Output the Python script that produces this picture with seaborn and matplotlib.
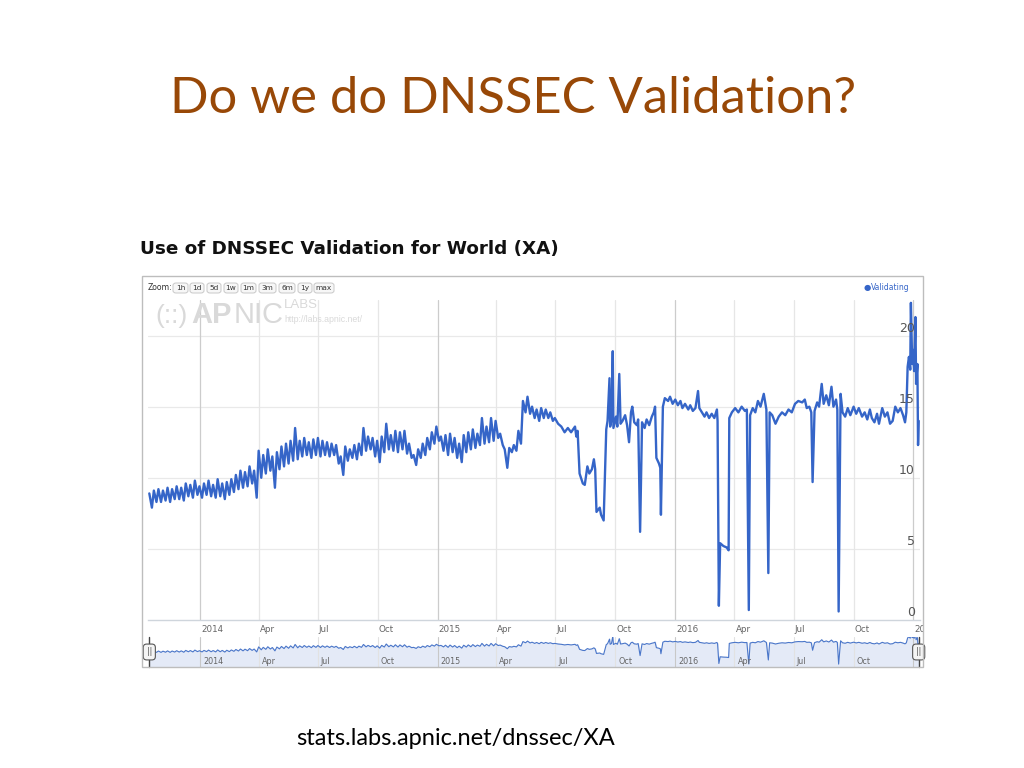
import matplotlib
matplotlib.use("Agg")
import numpy as np
import pandas as pd
import matplotlib.pyplot as plt
import matplotlib.transforms as mtransforms
from matplotlib.patches import Rectangle, FancyBboxPatch
import seaborn as sns

# ---------------- data ----------------
week0 = "2013-10-14"   # Monday of first week
weekly_high = [8.9, 9.1, 9.2, 9.1, 9.3, 9.2, 9.4, 9.3, 9.6, 9.5, 9.8, 9.4,
               9.6, 9.8, 9.5, 9.9, 9.6, 9.7, 9.9, 10.2, 10.5, 10.4, 10.8, 10.5,
               11.9, 11.6, 12.0, 11.5, 11.8, 12.2, 12.4, 12.6, 13.5, 12.6, 12.8, 12.5,
               12.7, 12.8, 12.6, 12.5, 12.4, 12.3, 11.5, 12.2, 12.0, 12.3, 12.4, 13.5,
               12.9, 12.8, 12.6, 12.9, 13.8, 13.0, 13.3, 13.2, 13.3, 12.4, 11.6, 12.0,
               12.4, 12.8, 13.2, 13.6, 12.9, 13.0, 13.1, 12.8, 12.4, 13.0, 13.2, 13.4,
               13.1, 14.2, 13.6, 14.2, 14.0, 13.1, 12.0, 12.1, 12.3, 13.3, 15.4, 15.7,
               15.0, 14.8, 14.9, 14.8, 14.6]
weekly_low = [7.9, 8.3, 8.3, 8.4, 8.3, 8.5, 8.5, 8.4, 8.7, 8.6, 8.8, 8.6,
              8.8, 8.7, 8.6, 8.7, 8.5, 8.8, 9.0, 9.2, 9.3, 9.4, 9.6, 8.6,
              10.0, 10.3, 10.5, 9.3, 10.6, 10.8, 11.0, 11.2, 11.3, 11.5, 11.6, 11.4,
              11.6, 11.5, 11.6, 11.5, 11.6, 11.0, 10.2, 11.2, 11.4, 11.3, 11.6, 11.9,
              12.0, 11.5, 11.1, 11.8, 12.0, 11.9, 11.8, 12.0, 11.7, 11.4, 10.9, 11.4,
              11.6, 12.0, 12.4, 12.6, 11.9, 11.6, 11.8, 11.4, 11.1, 11.8, 12.0, 12.1,
              12.3, 12.4, 12.5, 12.6, 12.8, 12.3, 10.7, 11.8, 11.9, 12.4, 14.6, 14.5,
              14.2, 14.0, 14.2, 14.2, 14.0]

days_2015 = [180, 185, 190, 195, 200, 205, 211, 213, 215, 218, 223, 226, 230, 233,
             237, 240, 242, 244, 249, 251, 255, 259, 261, 264, 265, 267, 269, 270,
             274, 276, 279, 281, 284, 288, 291, 294, 297, 299, 302, 306, 308, 311,
             314, 318, 321, 325, 329, 332, 334, 336, 340, 342, 343, 346, 349, 354,
             357, 361]
vals_2015 = [14.2, 13.8, 13.6, 13.2, 13.5, 13.2, 13.6, 12.9, 13.3, 10.3, 9.6, 9.5, 10.8, 10.3,
             10.6, 11.3, 10.6, 7.6, 7.9, 7.4, 7.0, 13.4, 14.0, 17.0, 13.6, 14.1, 18.9, 13.5,
             14.3, 13.6, 17.3, 13.8, 14.0, 14.4, 13.7, 12.5, 14.6, 15.0, 13.9, 13.7, 14.1, 6.2,
             13.9, 13.5, 14.1, 13.7, 14.3, 14.6, 15.0, 11.4, 11.0, 10.7, 7.4, 15.0, 15.6, 15.4,
             15.7, 15.2]

days_2016 = [0, 4, 8, 11, 15, 20, 23, 27, 31, 35, 37, 41, 45, 48, 52, 56, 60, 64, 65, 67,
             69, 74, 79, 82, 83, 87, 92, 97, 102, 107, 110, 113, 115, 119, 123, 127, 131,
             136, 140, 143, 145, 149, 154, 159, 164, 169, 174, 179, 184, 189, 195, 199,
             202, 206, 209, 211, 214, 218, 221, 225, 228, 232, 236, 240, 243, 247, 249,
             251, 254, 257, 261, 265, 269, 274, 278, 282, 287, 291, 295, 299, 302, 306,
             310, 313, 318, 322, 326, 330, 334, 338, 342, 346, 350, 353, 355, 357, 359,
             361, 362, 364, 365, 367, 369, 370, 372, 373, 374]
vals_2016 = [15.5, 15.1, 15.4, 14.9, 15.2, 14.8, 15.1, 14.7, 14.9, 16.1, 14.9, 14.6, 14.3, 14.6,
             14.2, 14.5, 14.2, 14.8, 14.0, 1.0, 5.4, 5.2, 5.1, 4.9, 14.2, 14.6, 14.9, 14.6,
             15.0, 14.7, 14.8, 0.7, 14.4, 14.9, 14.6, 15.4, 15.0, 15.9, 14.8, 3.3, 14.6,
             14.4, 13.8, 14.3, 14.6, 14.4, 14.8, 14.6, 15.2, 15.4, 15.3, 15.5, 14.9, 15.0,
             14.6, 9.7, 14.7, 15.3, 15.0, 16.6, 15.2, 15.8, 15.1, 16.4, 15.0, 15.5, 14.8,
             0.6, 15.9, 14.6, 14.3, 14.9, 14.4, 15.0, 14.5, 14.9, 14.3, 14.6, 14.1, 14.8,
             14.2, 13.9, 14.5, 13.8, 14.9, 14.3, 14.6, 13.8, 14.0, 15.0, 14.6, 14.9, 14.4,
             13.9, 14.6, 17.8, 18.5, 17.6, 22.3, 18.0, 19.0, 17.5, 21.3, 16.6, 18.0, 12.3, 14.0]

y_ticks = [0, 5, 10, 15, 20]
x_start, x_end = "2013-10-13", "2017-01-11"
slide_title = "Do we do DNSSEC Validation?"
chart_title = "Use of DNSSEC Validation for World (XA)"
footer = "stats.labs.apnic.net/dnssec/XA"
zoom_labels = ["1h", "1d", "5d", "1w", "1m", "3m", "6m", "1y", "max"]
series_name = "Validating"

# ---------------- build the table ----------------
w0 = pd.Timestamp(week0)
dates, vals = [], []
for k, (h, l) in enumerate(zip(weekly_high, weekly_low)):
    dates += [w0 + pd.Timedelta(days=7 * k + 1), w0 + pd.Timedelta(days=7 * k + 5)]
    vals += [h, l]
dates += [pd.Timestamp("2015-01-01") + pd.Timedelta(days=d) for d in days_2015]
vals += vals_2015
dates += [pd.Timestamp("2016-01-01") + pd.Timedelta(days=d) for d in days_2016]
vals += vals_2016
df = pd.DataFrame({"date": dates, "validating": vals})

# ---------------- figure ----------------
sns.set_theme(style="white")
plt.rcParams["font.family"] = ["DejaVu Sans"]

W, H = 1024, 768
fig = plt.figure(figsize=(W / 100, H / 100), dpi=100)
fig.patch.set_facecolor("white")

def fx(px):
    return px / W

def fy(py):
    return 1 - py / H

LINE = "#3565c8"

# main axes
L, R, T, B = 148, 920, 300, 620
ax = fig.add_axes([fx(L), fy(B), fx(R - L), (B - T) / H])
sns.lineplot(data=df, x="date", y="validating", ax=ax, color=LINE,
             linewidth=1.7, legend=False, zorder=3)
ax.set_xlim(pd.Timestamp(x_start), pd.Timestamp(x_end))
ax.set_ylim(0, 22.5)
ax.set_xlabel("")
ax.set_ylabel("")
ax.set_xticks([])
ax.set_yticks([])
for s in ["top", "left", "right"]:
    ax.spines[s].set_visible(False)
ax.spines["bottom"].set_color("#cfd5dc")
ax.spines["bottom"].set_linewidth(1.0)
ax.set_facecolor("white")

for v in y_ticks[1:]:
    ax.axhline(v, color="#e9e9e9", lw=0.9, zorder=1)

quarters = pd.date_range("2014-01-01", "2017-01-01", freq="QS")
def qlabel(d):
    return str(d.year) if d.month == 1 else d.strftime("%b")

clip_rect = Rectangle((fx(142), 0), fx(923 - 142), 1, transform=fig.transFigure)

xt = mtransforms.blended_transform_factory(ax.transData, ax.transAxes)
for d in quarters:
    col = "#cccccc" if d.month == 1 else "#e6e6e6"
    ax.axvline(d, color=col, lw=0.9, zorder=1)
    t = ax.text(d, 0, qlabel(d), fontsize=6.3, color="#666666", ha="left", va="center",
                transform=xt + mtransforms.ScaledTranslation(0.01, -0.09, fig.dpi_scale_trans),
                clip_on=True)
    t.set_clip_path(clip_rect)

yt = mtransforms.blended_transform_factory(ax.transAxes, ax.transData)
for v in y_ticks:
    ax.text((915 - L) / (R - L), v, str(v), fontsize=9, color="#555555", ha="right",
            va="center", transform=yt + mtransforms.ScaledTranslation(0, 0.07, fig.dpi_scale_trans),
            zorder=4)

# navigator axes
NT, NB = 637, 667
axn = fig.add_axes([fx(L), fy(NB), fx(R - L), (NB - NT) / H])
ylo, yhi = -1.3, 18.4
axn.fill_between(df["date"], df["validating"], ylo, color="#e4eaf7", zorder=1)
sns.lineplot(data=df, x="date", y="validating", ax=axn, color="#4a76c9",
             linewidth=0.8, legend=False, zorder=3)
axn.set_xlim(pd.Timestamp(x_start), pd.Timestamp(x_end))
axn.set_ylim(ylo, yhi)
axn.set_xlabel("")
axn.set_ylabel("")
axn.set_xticks([])
axn.set_yticks([])
for s in axn.spines.values():
    s.set_visible(False)
xtn = mtransforms.blended_transform_factory(axn.transData, axn.transAxes)
for d in quarters:
    col = "#c8c8c8" if d.month == 1 else "#e2e2e2"
    axn.axvline(d, color=col, lw=0.8, zorder=2)
    if d.year < 2017:
        axn.text(d, 0, qlabel(d), fontsize=5.8, color="#666666", ha="left", va="center",
                 transform=xtn + mtransforms.ScaledTranslation(0.03, 0.05, fig.dpi_scale_trans),
                 zorder=4)
# handles
for d in [df["date"].iloc[0], df["date"].iloc[-1]]:
    axn.plot([d, d], [0, 1], transform=xtn, color="#444444", lw=1.0, clip_on=False, zorder=5)
    axn.text(d, 0.5, "||", transform=xtn, ha="center", va="center", fontsize=5.5,
             color="#444444", zorder=6, clip_on=False,
             bbox=dict(boxstyle="round,pad=0.45", fc="#f4f4f4", ec="#555555", lw=0.8))

# chart frame
fig.add_artist(Rectangle((fx(142), fy(667)), fx(923 - 142), (667 - 276) / H,
                         transform=fig.transFigure, fill=False, ec="#bdbdbd", lw=1.0))

# titles
fig.text(fx(513), fy(113), slide_title, ha="center", va="baseline", fontsize=36.5,
         family=["Lato", "DejaVu Sans"], color="#984807")
fig.text(fx(140), fy(254), chart_title, ha="left", va="baseline", fontsize=13.2,
         weight="bold", color="#111111")
fig.text(fx(456), fy(745), footer, ha="center", va="baseline", fontsize=17,
         family=["Lato", "DejaVu Sans"], color="#000000")

# zoom buttons
fig.text(fx(148), fy(288), "Zoom:", ha="left", va="center", fontsize=5.6, color="#333333")
btn_spans = [(173, 188), (190, 204), (207, 221), (224, 238), (241, 256), (259, 276),
             (279, 295), (298, 312), (314, 334)]
for lbl, (a, b) in zip(zoom_labels, btn_spans):
    fig.add_artist(FancyBboxPatch((fx(a), fy(293)), fx(b - a), 10 / H,
                                  boxstyle="round,pad=0,rounding_size=0.003",
                                  transform=fig.transFigure, fc="#f7f7f7", ec="#c8c8c8", lw=0.7))
    fig.text(fx((a + b) / 2), fy(288), lbl, ha="center", va="center", fontsize=5.3,
             color="#333333")

# legend
fig.text(fx(867), fy(287), "\u25CF", ha="center", va="center", fontsize=6, color=LINE)
fig.text(fx(871), fy(287), series_name, ha="left", va="center", fontsize=5.5, color=LINE)

# APNIC watermark
wm = "#d9d9d9"
fig.text(fx(155), fy(323), "(::)", ha="left", va="baseline", fontsize=19, color=wm,
         family=["Liberation Sans", "DejaVu Sans"])
fig.text(fx(191), fy(323), "AP", ha="left", va="baseline", fontsize=21, color=wm,
         weight="bold", family=["Liberation Sans", "DejaVu Sans"])
fig.text(fx(234), fy(323), "NIC", ha="left", va="baseline", fontsize=21, color=wm,
         family=["Liberation Sans", "DejaVu Sans"])
fig.text(fx(284), fy(308), "LABS", ha="left", va="baseline", fontsize=9.5, color=wm,
         family=["Liberation Sans", "DejaVu Sans"])
fig.text(fx(284), fy(322), "http://labs.apnic.net/", ha="left", va="baseline", fontsize=6.3,
         color=wm, family=["Liberation Sans", "DejaVu Sans"])

fig.savefig("out.png", dpi=100, facecolor="white")
